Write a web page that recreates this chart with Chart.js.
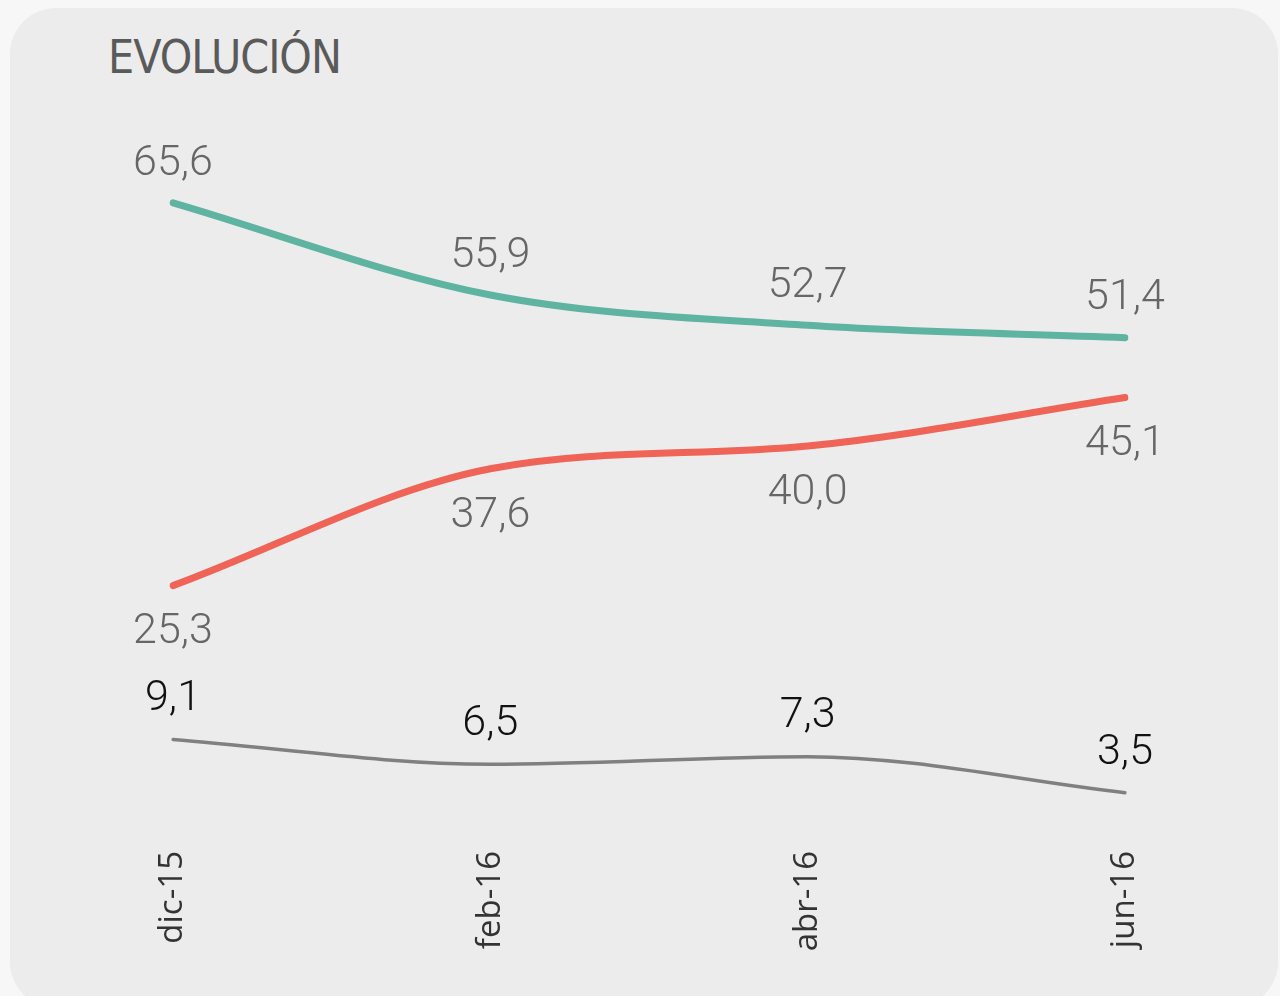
<!DOCTYPE html>
<html>
<head>
<meta charset="utf-8">
<script src="https://cdn.jsdelivr.net/npm/chart.js@4"></script>
<style>
  html, body { margin: 0; padding: 0; background: #f7f7f7; width: 1280px; height: 996px; overflow: hidden; }
  .panel { position: absolute; left: 10px; top: 8px; width: 1268px; height: 1000px; background: #ececec; border-radius: 46px; }
  .title { position: absolute; left: 108px; top: 30px; margin: 0; font: 300 46px 'Liberation Sans Narrow', 'DejaVu Sans Condensed', sans-serif; color: #5a5a5a; letter-spacing: -1px; }
  #wrap { position: absolute; left: 0; top: 0; width: 1280px; height: 996px; }
</style>
</head>
<body>
<div class="panel"></div>
<h1 class="title">EVOLUCIÓN</h1>
<div id="wrap"><canvas id="chart"></canvas></div>
<script>
// ── DATOS ────────────────────────────────────────────────────────────────────
const periodos = ['dic-15', 'feb-16', 'abr-16', 'jun-16']
const serieVerde = [65.6, 55.9, 52.7, 51.4]
const serieRoja  = [25.3, 37.6, 40.0, 45.1]
const serieGris  = [9.1, 6.5, 7.3, 3.5]

// posición de la etiqueta respecto al punto (px) y color del texto
const _ETIQ = [
  { dy: -39, color: '#666' },
  { dy:  47, color: '#666' },
  { dy: -40, color: '#111' }
]

const _fmt = v => v.toFixed(1).replace('.', ',')

// Plugin inline: etiquetas de valor encima / debajo de cada punto
const etiquetasPlugin = {
  id: 'etiquetas',
  afterDatasetsDraw(chart) {
    const { ctx } = chart
    ctx.save()
    ctx.textAlign = 'center'; ctx.textBaseline = 'middle'
    ctx.font = '300 43px Roboto, "Open Sans", sans-serif'
    chart.data.datasets.forEach((ds, i) => {
      const meta = chart.getDatasetMeta(i)
      ctx.fillStyle = _ETIQ[i].color
      meta.data.forEach((pt, j) => {
        ctx.fillText(_fmt(ds.data[j]), pt.x, pt.y + _ETIQ[i].dy)
      })
    })
    ctx.restore()
  }
}

new Chart(document.getElementById('chart'), {
  type: 'line',
  plugins: [etiquetasPlugin],
  data: {
    labels: periodos,
    datasets: [
      { data: serieVerde, borderColor: '#5fb3a1', borderWidth: 7 },
      { data: serieRoja,  borderColor: '#ef6456', borderWidth: 7 },
      { data: serieGris,  borderColor: '#808080', borderWidth: 3.5 }
    ]
  },
  options: {
    responsive: true, maintainAspectRatio: false, animation: false,
    layout: { padding: { left: 173, right: 155, top: 161, bottom: 0 } },
    elements: {
      point: { radius: 0 },
      line: { cubicInterpolationMode: 'monotone', borderCapStyle: 'round', borderJoinStyle: 'round', fill: false }
    },
    plugins: { legend: { display: false }, tooltip: { enabled: false } },
    scales: {
      x: {
        offset: false,
        grid: { display: false, drawTicks: false }, border: { display: false },
        afterFit(scale) { scale.height = 170 },
        ticks: {
          color: '#333', padding: 25, minRotation: 90, maxRotation: 90,
          font: { family: '"Open Sans", sans-serif', size: 33 }
        }
      },
      y: { display: false, min: 0, max: 70 }
    }
  }
})
</script>
</body>
</html>
